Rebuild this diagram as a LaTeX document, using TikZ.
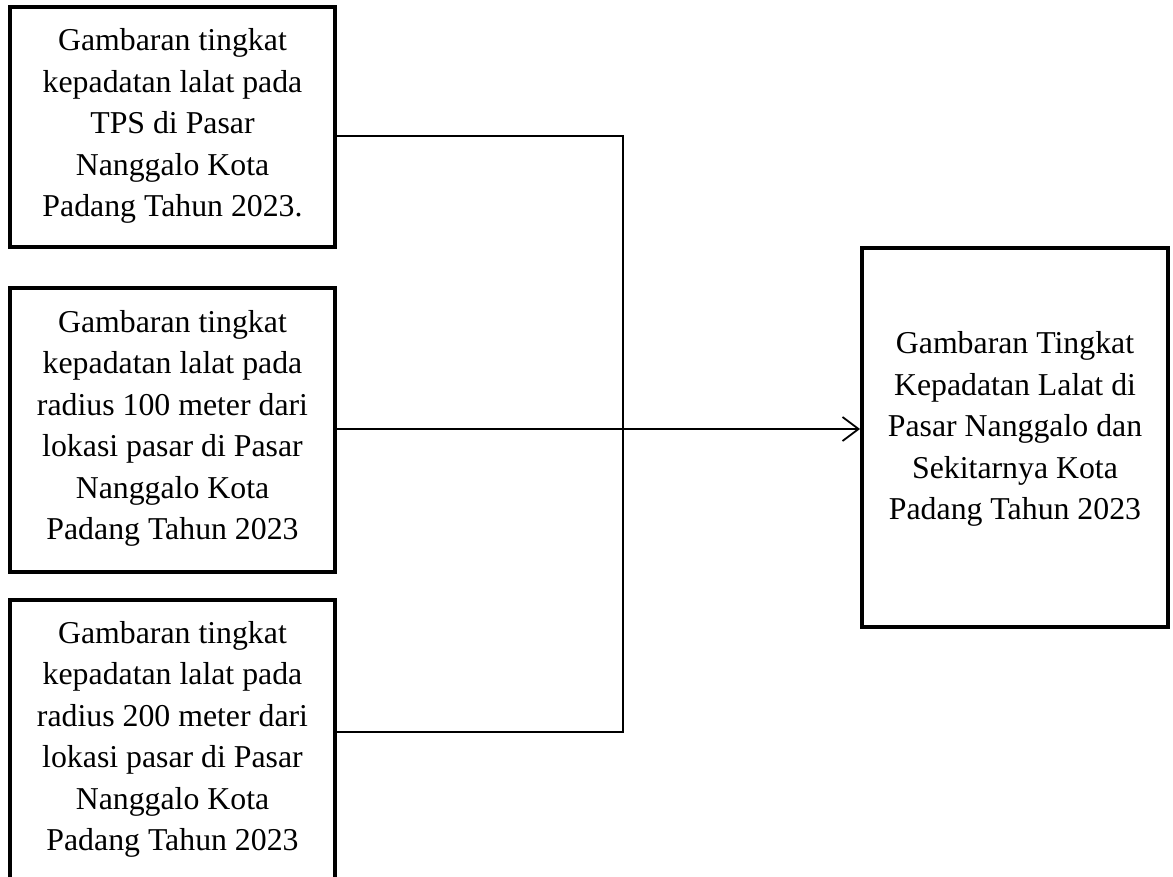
\documentclass[tikz,border=0pt]{standalone}
\usepackage{fontspec}
\setmainfont{Liberation Serif}
\usetikzlibrary{arrows.meta}
\tikzset{
  box/.style={draw=black, line width=4pt, align=center, inner sep=0pt,
    font=\fontsize{31.8pt}{41.5pt}\selectfont},
  conn/.style={draw=black, line width=1.5pt},
  arr/.style={-{Straight Barb[length=16pt,width=24pt,line width=1.8pt]}}
}
\begin{document}
\begin{tikzpicture}[x=1pt,y=-1pt]
\useasboundingbox (0,0) rectangle (1173,877);
\node[box, minimum width=325pt, minimum height=240pt, text depth=9pt] (b1) at (172.5,127)
  {Gambaran tingkat\\kepadatan lalat pada\\TPS di Pasar\\Nanggalo Kota\\Padang Tahun 2023.};
\node[box, minimum width=325pt, minimum height=284pt, text depth=10pt] (b2) at (172.5,430)
  {Gambaran tingkat\\kepadatan lalat pada\\radius 100 meter dari\\lokasi pasar di Pasar\\Nanggalo Kota\\Padang Tahun 2023};
\node[box, minimum width=325pt, minimum height=284pt, text depth=12pt] (b3) at (172.5,742)
  {Gambaran tingkat\\kepadatan lalat pada\\radius 200 meter dari\\lokasi pasar di Pasar\\Nanggalo Kota\\Padang Tahun 2023};
\node[box, minimum width=306pt, minimum height=379pt, text depth=24pt] (rb) at (1015,437.5)
  {Gambaran Tingkat\\Kepadatan Lalat di\\Pasar Nanggalo dan\\Sekitarnya Kota\\Padang Tahun 2023};
\coordinate (j) at (623,429);
\draw[conn] ([yshift=-9pt]b1.east) -| (j);
\draw[conn] ([yshift=10pt]b3.east) -| (j);
\draw[conn, arr] (b2.east |- j) -- (j -| rb.west);
\end{tikzpicture}
\end{document}
